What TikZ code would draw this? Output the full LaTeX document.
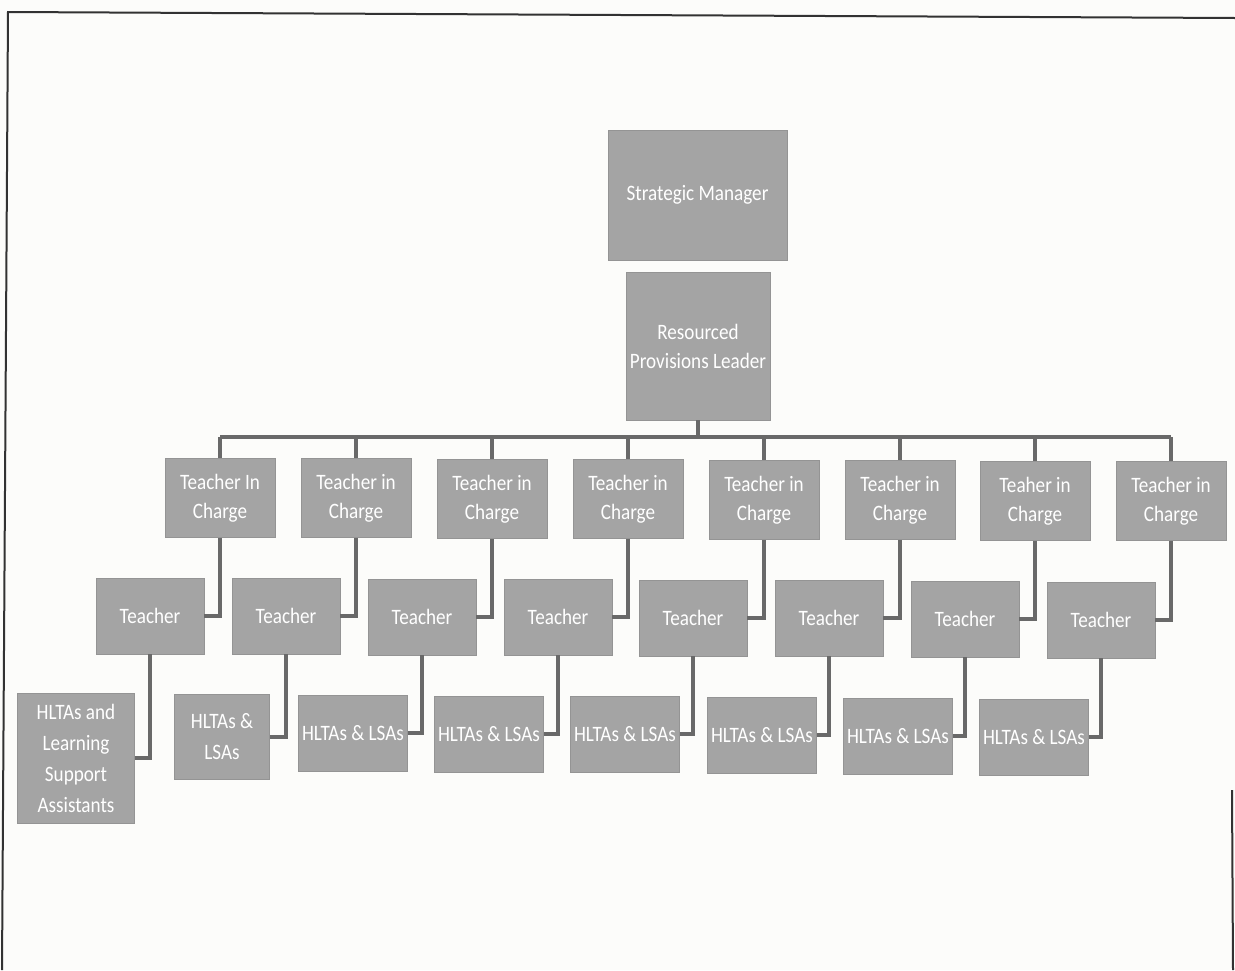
\documentclass[tikz,border=0pt]{standalone}
\usepackage{fontspec}
\newfontfamily\boxfont{Carlito}[FakeStretch=0.87]
\definecolor{boxgray}{RGB}{164,164,164}
\definecolor{linegray}{RGB}{105,105,105}
\definecolor{framegray}{RGB}{50,50,50}
\definecolor{paper}{RGB}{252,252,250}
\tikzset{
  box/.style={fill=boxgray, draw=boxgray!90!black, line width=0.6pt, text=white, align=center,
    font=\boxfont\fontsize{22}{29}\selectfont, inner sep=2pt},
  tic/.style={box, minimum width=110, minimum height=79},
  tch/.style={box, minimum width=108, minimum height=76},
  hl/.style={box, minimum width=109, minimum height=76},
  conn/.style={draw=linegray, line width=3.2pt},
  frame/.style={draw=framegray, line width=2pt}
}
\begin{document}
\begin{tikzpicture}[x=1pt,y=-1pt]
\useasboundingbox[fill=paper] (0,0) rectangle (1235,970);
% scanned page frame
\coordinate (ftl) at (8,12);
\coordinate (ftr) at (1235,18);
\coordinate (fbl) at (2,970);
\coordinate (frt) at (1232,790);
\coordinate (frb) at (1233,970);
\draw[frame] (ftr) -- (ftl) -- (fbl);
\draw[frame] (frt) -- (frb);

% top levels
\node[box, minimum width=179, minimum height=130] (sm) at (697.5,195) {Strategic Manager};
\node[box, minimum width=144, minimum height=148] (rpl) at (698,346) {Resourced\\Provisions Leader};

% Teachers in charge
\node[tic] (c1) at (220,498) {Teacher In\\Charge};
\node[tic] (c2) at (356,498) {Teacher in\\Charge};
\node[tic] (c3) at (492,499) {Teacher in\\Charge};
\node[tic] (c4) at (628,499) {Teacher in\\Charge};
\node[tic] (c5) at (764,500) {Teacher in\\Charge};
\node[tic] (c6) at (900,500) {Teacher in\\Charge};
\node[tic] (c7) at (1035,501) {Teaher in\\Charge};
\node[tic] (c8) at (1171,501) {Teacher in\\Charge};

% Teachers
\node[tch] (t1) at (150,616) {Teacher};
\node[tch] (t2) at (286,616) {Teacher};
\node[tch] (t3) at (422,617) {Teacher};
\node[tch] (t4) at (558,617) {Teacher};
\node[tch] (t5) at (693,618) {Teacher};
\node[tch] (t6) at (829,618) {Teacher};
\node[tch] (t7) at (965,619) {Teacher};
\node[tch] (t8) at (1101,620) {Teacher};

% HLTAs
\node[box, minimum width=117, minimum height=130, font=\boxfont\fontsize{22}{31}\selectfont] (h1) at (76,758) {HLTAs and\\Learning\\Support\\Assistants};
\node[box, minimum width=95, minimum height=85, font=\boxfont\fontsize{22}{31}\selectfont] (h2) at (222,737) {HLTAs \&\\LSAs};
\node[hl] (h3) at (353,733) {HLTAs \& LSAs};
\node[hl] (h4) at (489,734) {HLTAs \& LSAs};
\node[hl] (h5) at (625,734) {HLTAs \& LSAs};
\node[hl] (h6) at (762,735) {HLTAs \& LSAs};
\node[hl] (h7) at (898,736) {HLTAs \& LSAs};
\node[hl] (h8) at (1034,737) {HLTAs \& LSAs};

% bus
\coordinate (bus) at (697,437);
\draw[conn] (rpl.south) -- (rpl.south |- bus);
\draw[conn] (c1.north |- bus) -- (c8.north |- bus);
\foreach \i in {1,...,8} {
  \draw[conn] (c\i.north |- bus) -- (c\i.north);
}
% TIC -> Teacher
\foreach \i in {1,...,8} {
  \draw[conn] (c\i.south) |- (t\i.east);
}
% Teacher -> HLTAs
\draw[conn] (t1.south) |- (h1.east);
\draw[conn] (t2.south) |- (h2.east);
\foreach \i in {3,...,8} {
  \draw[conn] (t\i.south) |- (h\i.east);
}
\end{tikzpicture}
\end{document}
